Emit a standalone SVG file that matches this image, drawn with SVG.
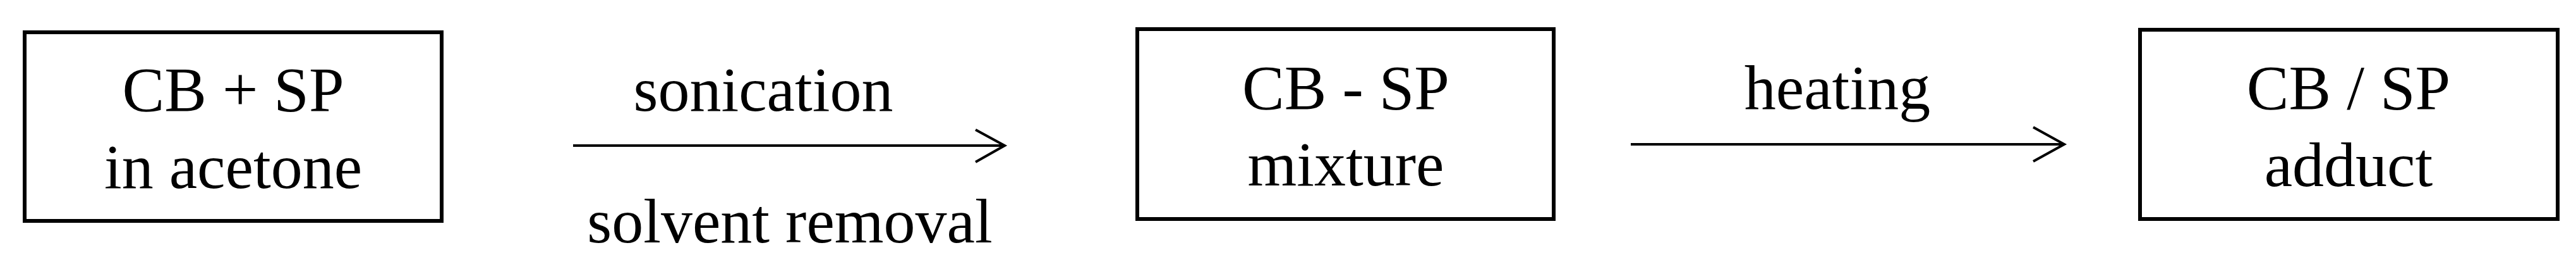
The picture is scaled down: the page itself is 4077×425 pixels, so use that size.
<svg xmlns="http://www.w3.org/2000/svg" width="4077" height="425" viewBox="0 0 4077 425">
<style>
.box{fill:#fff;stroke:#000;stroke-width:6}
.t{font-family:"Liberation Serif","Times New Roman",serif;font-size:100px;fill:#000;text-anchor:middle}
.ln{fill:none;stroke:#000;stroke-width:4}
</style>
<rect width="4077" height="425" fill="#fff"/>
<g id="node-cb-sp-acetone">
<rect class="box" x="39" y="51" width="660" height="298"/>
<text class="t" x="369" y="175">CB + SP</text>
<text class="t" x="369" y="297">in acetone</text>
</g>
<g id="node-cb-sp-mixture">
<rect class="box" x="1800" y="46" width="659" height="300"/>
<text class="t" x="2130" y="172">CB - SP</text>
<text class="t" x="2130" y="293">mixture</text>
</g>
<g id="node-cb-sp-adduct">
<rect class="box" x="3387" y="47" width="661" height="299"/>
<text class="t" x="3717" y="172">CB / SP</text>
<text class="t" x="3717" y="294">adduct</text>
</g>
<g id="connectors">
<g id="arrow-1">
<line class="ln" x1="907" y1="230" x2="1589" y2="230"/>
<polyline class="ln" points="1544,205 1590,230 1544,256"/>
<text class="t" x="1208" y="175">sonication</text>
<text class="t" x="1250" y="383">solvent removal</text>
</g>
<g id="arrow-2">
<line class="ln" x1="2581" y1="228" x2="3266" y2="228"/>
<polyline class="ln" points="3218,201 3267,228 3218,255"/>
<text class="t" x="2908" y="172">heating</text>
</g>
</g>
</svg>
